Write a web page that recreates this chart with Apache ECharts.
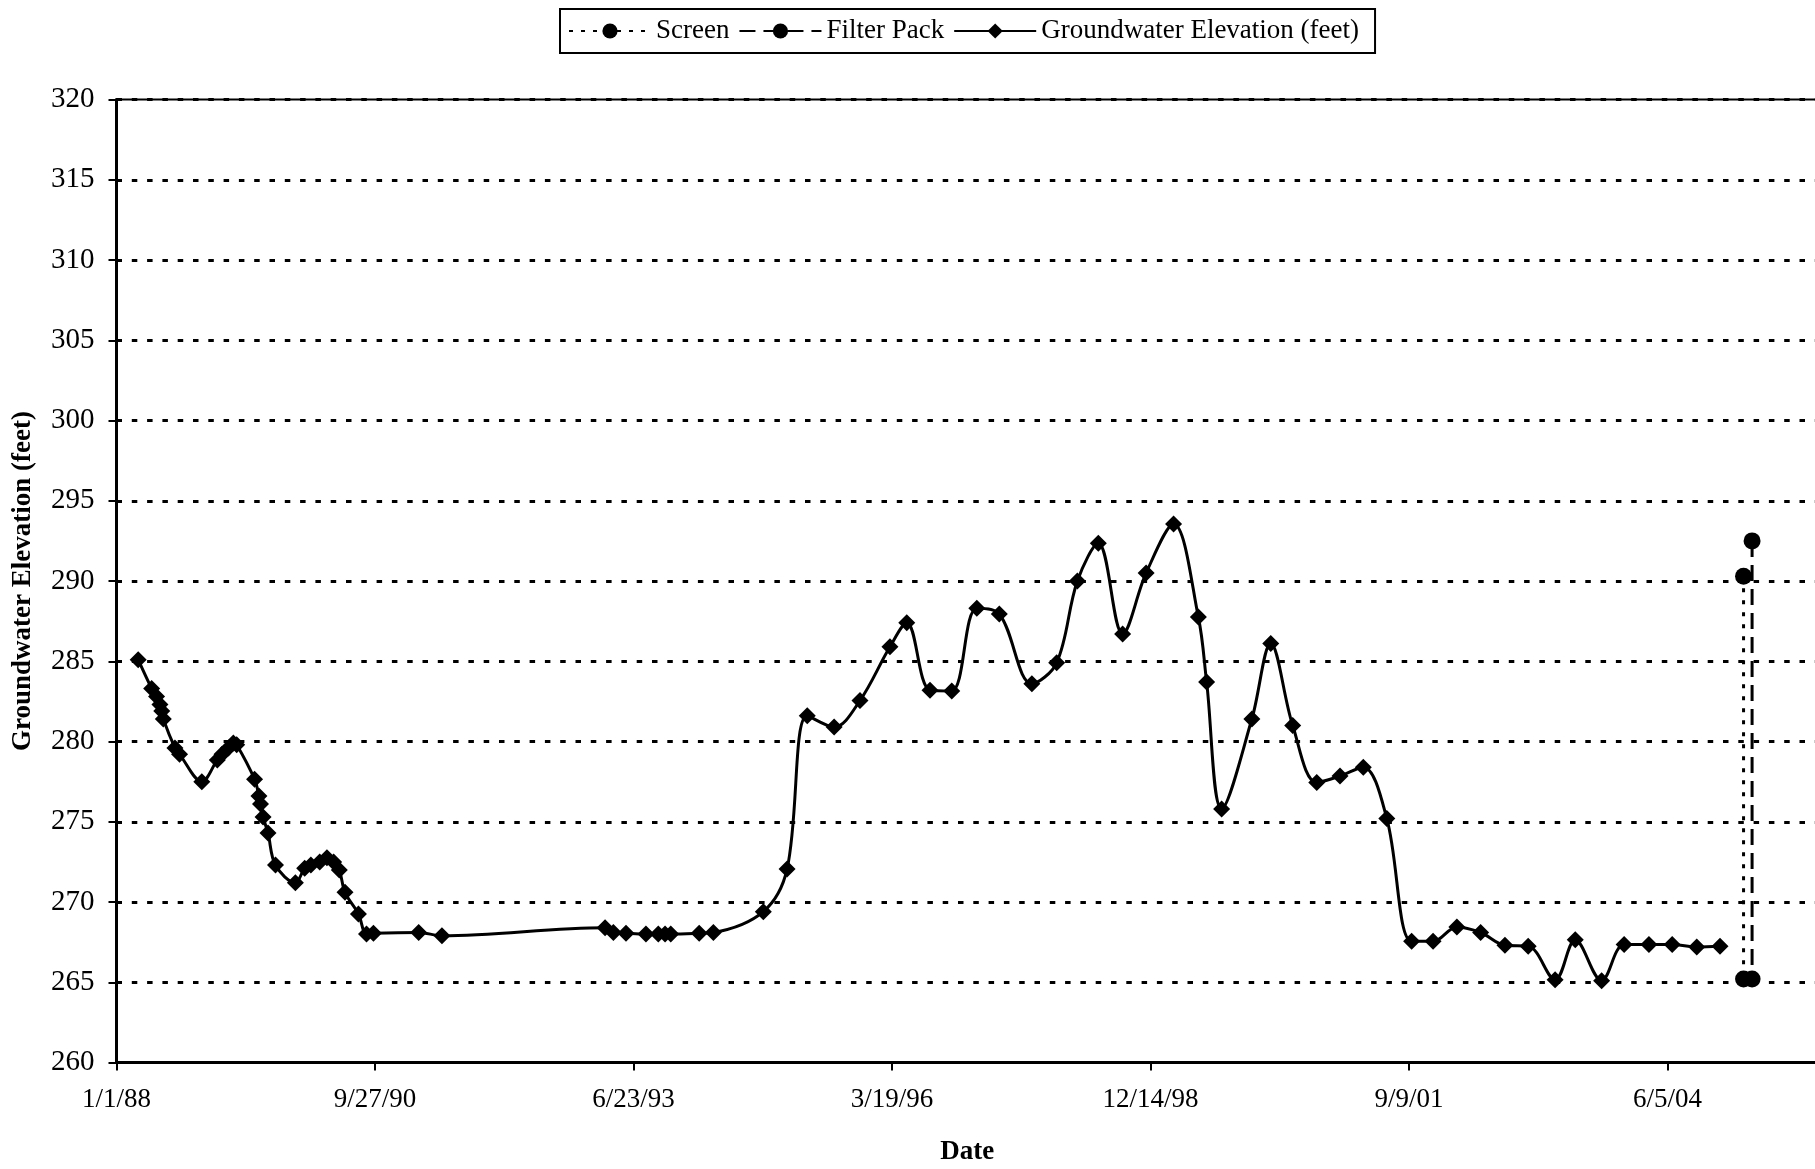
<!DOCTYPE html>
<html>
<head>
<meta charset="utf-8">
<title>Groundwater Elevation</title>
<script src="https://cdn.jsdelivr.net/npm/echarts@6/dist/echarts.min.js"></script>
<style>
  html, body { margin: 0; padding: 0; background: #fff; }
  #chart { width: 1815px; height: 1169px; }
</style>
</head>
<body>
<div id="chart"></div>
<script>
// groundwater elevation readings (feet)
const gwDates = [
  '1988-03-25','1988-05-16','1988-06-04','1988-06-17','1988-06-24','1988-06-30','1988-08-14','1988-09-01','1988-11-26',
  '1989-01-25','1989-02-12','1989-03-09','1989-03-28','1989-04-10','1989-06-18','1989-07-05','1989-07-11','1989-07-21',
  '1989-08-09','1989-09-07','1989-11-23','1989-12-29','1990-01-22','1990-02-25','1990-03-25','1990-04-20','1990-05-12',
  '1990-06-03','1990-07-25','1990-08-25','1990-09-21','1991-03-15','1991-06-13',
  '1993-03-05','1993-04-06','1993-05-25','1993-08-10','1993-09-27','1993-10-23','1993-11-14','1994-03-04','1994-04-28',
  '1994-11-07','1995-02-07','1995-04-26','1995-08-08','1995-11-16','1996-03-11','1996-05-15','1996-08-13','1996-11-05',
  '1997-02-10','1997-05-08','1997-09-11','1997-12-16','1998-03-06','1998-05-26','1998-08-28','1998-11-27','1999-03-13',
  '1999-06-17','1999-07-19','1999-09-15','2000-01-10','2000-03-23','2000-06-16','2000-09-17','2000-12-16','2001-03-16',
  '2001-06-15','2001-09-19','2001-12-11','2002-03-13','2002-06-13','2002-09-15','2002-12-14','2003-03-28','2003-06-14',
  '2003-09-24','2003-12-20','2004-03-25','2004-06-23','2004-09-26','2004-12-25'
];
const gwElev = [
  285.1, 283.3, 282.8, 282.3, 281.9, 281.4, 279.6, 279.2, 277.5,
  278.85, 279.2, 279.6, 279.9, 279.8, 277.65, 276.6, 276.1, 275.3,
  274.3, 272.3, 271.2, 272.1, 272.3, 272.5, 272.75, 272.5, 272.0,
  270.6, 269.25, 268.0, 268.05, 268.1, 267.9,
  268.4, 268.1, 268.05, 268.0, 268.0, 268.0, 268.0, 268.05, 268.1,
  269.4, 272.05, 281.6, 280.9, 282.55, 285.9, 287.4, 283.2, 283.15,
  288.3, 287.95, 283.6, 284.9, 290.0, 292.35, 286.7, 290.5, 293.55,
  287.75, 283.7, 275.8, 281.4, 286.1, 281.0, 277.45, 277.85, 278.4,
  275.2, 267.55, 267.55, 268.45, 268.1, 267.3, 267.25, 265.15, 267.65,
  265.1, 267.35, 267.35, 267.35, 267.2, 267.25
];
// well construction intervals
const screenDates = ['2005-03-26', '2005-03-26'];
const screenElev = [290.3, 265.2];
const filterDates = ['2005-04-28', '2005-04-28'];
const filterElev = [292.5, 265.2];

const axisStart = '1988-01-01';
const tickDays = 1000;
const endDays = 6582;
const yMin = 260, yMax = 320, yStep = 5;

const DAY = 86400000;
const t0 = Date.parse(axisStart);
function toDays(s) { return (Date.parse(s) - t0) / DAY; }
function pairs(dates, vals) { return dates.map((d, i) => [toDays(d), vals[i]]); }
function fmtDate(v) {
    let d = new Date(t0 + Math.round(v) * DAY);
    let yy = String(d.getUTCFullYear() % 100).padStart(2, '0');
    return (d.getUTCMonth() + 1) + '/' + d.getUTCDate() + '/' + yy;
}

const serif = '"Liberation Serif", "Times New Roman", serif';
let myChart = echarts.init(document.getElementById('chart'));
let option = {
    backgroundColor: '#fff',
    animation: false,
    legend: {
        left: 560,
        top: 9,
        orient: 'horizontal',
        borderColor: '#000',
        borderWidth: 2,
        padding: [8, 16, 8, 8],
        itemWidth: 82,
        itemHeight: 19,
        itemGap: 9,
        textStyle: { color: '#000', fontFamily: serif, fontSize: 27, lineHeight: 28 },
        data: ['Screen', 'Filter Pack', 'Groundwater Elevation (feet)']
    },
    grid: {
        left: 116.5,
        right: -3,
        top: 99.5,
        bottom: 106.5,
        outerBoundsMode: 'none',
        containLabel: false,
        show: true,
        borderColor: '#000',
        borderWidth: 2
    },
    xAxis: {
        type: 'value',
        min: 0,
        max: endDays,
        interval: tickDays,
        name: 'Date',
        nameLocation: 'middle',
        nameGap: 76,
        nameTextStyle: { color: '#000', fontFamily: serif, fontSize: 27, fontWeight: 'bold' },
        axisLine: { lineStyle: { color: '#000', width: 3 } },
        axisTick: { show: true, length: 8, lineStyle: { color: '#000', width: 2 } },
        axisLabel: {
            color: '#000', fontFamily: serif, fontSize: 27, margin: 24,
            showMaxLabel: false,
            formatter: fmtDate
        },
        splitLine: { show: false }
    },
    yAxis: {
        type: 'value',
        min: yMin,
        max: yMax,
        interval: yStep,
        name: 'Groundwater Elevation (feet)',
        nameLocation: 'middle',
        nameGap: 80,
        nameTextStyle: { color: '#000', fontFamily: serif, fontSize: 27, fontWeight: 'bold' },
        axisLine: { show: true, lineStyle: { color: '#000', width: 3 } },
        axisTick: { show: true, length: 8, lineStyle: { color: '#000', width: 2 } },
        axisLabel: { color: '#000', fontFamily: serif, fontSize: 29, margin: 22 },
        splitLine: {
            show: true,
            showMinLine: false,
            lineStyle: { color: '#000', width: 3, type: [5.5, 9.8] }
        }
    },
    series: [
        {
            name: 'Screen',
            type: 'line',
            data: pairs(screenDates, screenElev),
            symbol: 'circle',
            symbolSize: 17,
            itemStyle: { color: '#000' },
            lineStyle: { color: '#000', width: 3, type: [4, 8] },
            z: 3
        },
        {
            name: 'Filter Pack',
            type: 'line',
            data: pairs(filterDates, filterElev),
            symbol: 'circle',
            symbolSize: 17,
            itemStyle: { color: '#000' },
            lineStyle: { color: '#000', width: 3, type: [16, 8] },
            z: 3
        },
        {
            name: 'Groundwater Elevation (feet)',
            type: 'line',
            data: pairs(gwDates, gwElev),
            smooth: 0.35,
            symbol: 'diamond',
            symbolSize: 17,
            itemStyle: { color: '#000' },
            lineStyle: { color: '#000', width: 3 },
            z: 4
        }
    ]
};
myChart.setOption(option);
</script>
</body>
</html>
